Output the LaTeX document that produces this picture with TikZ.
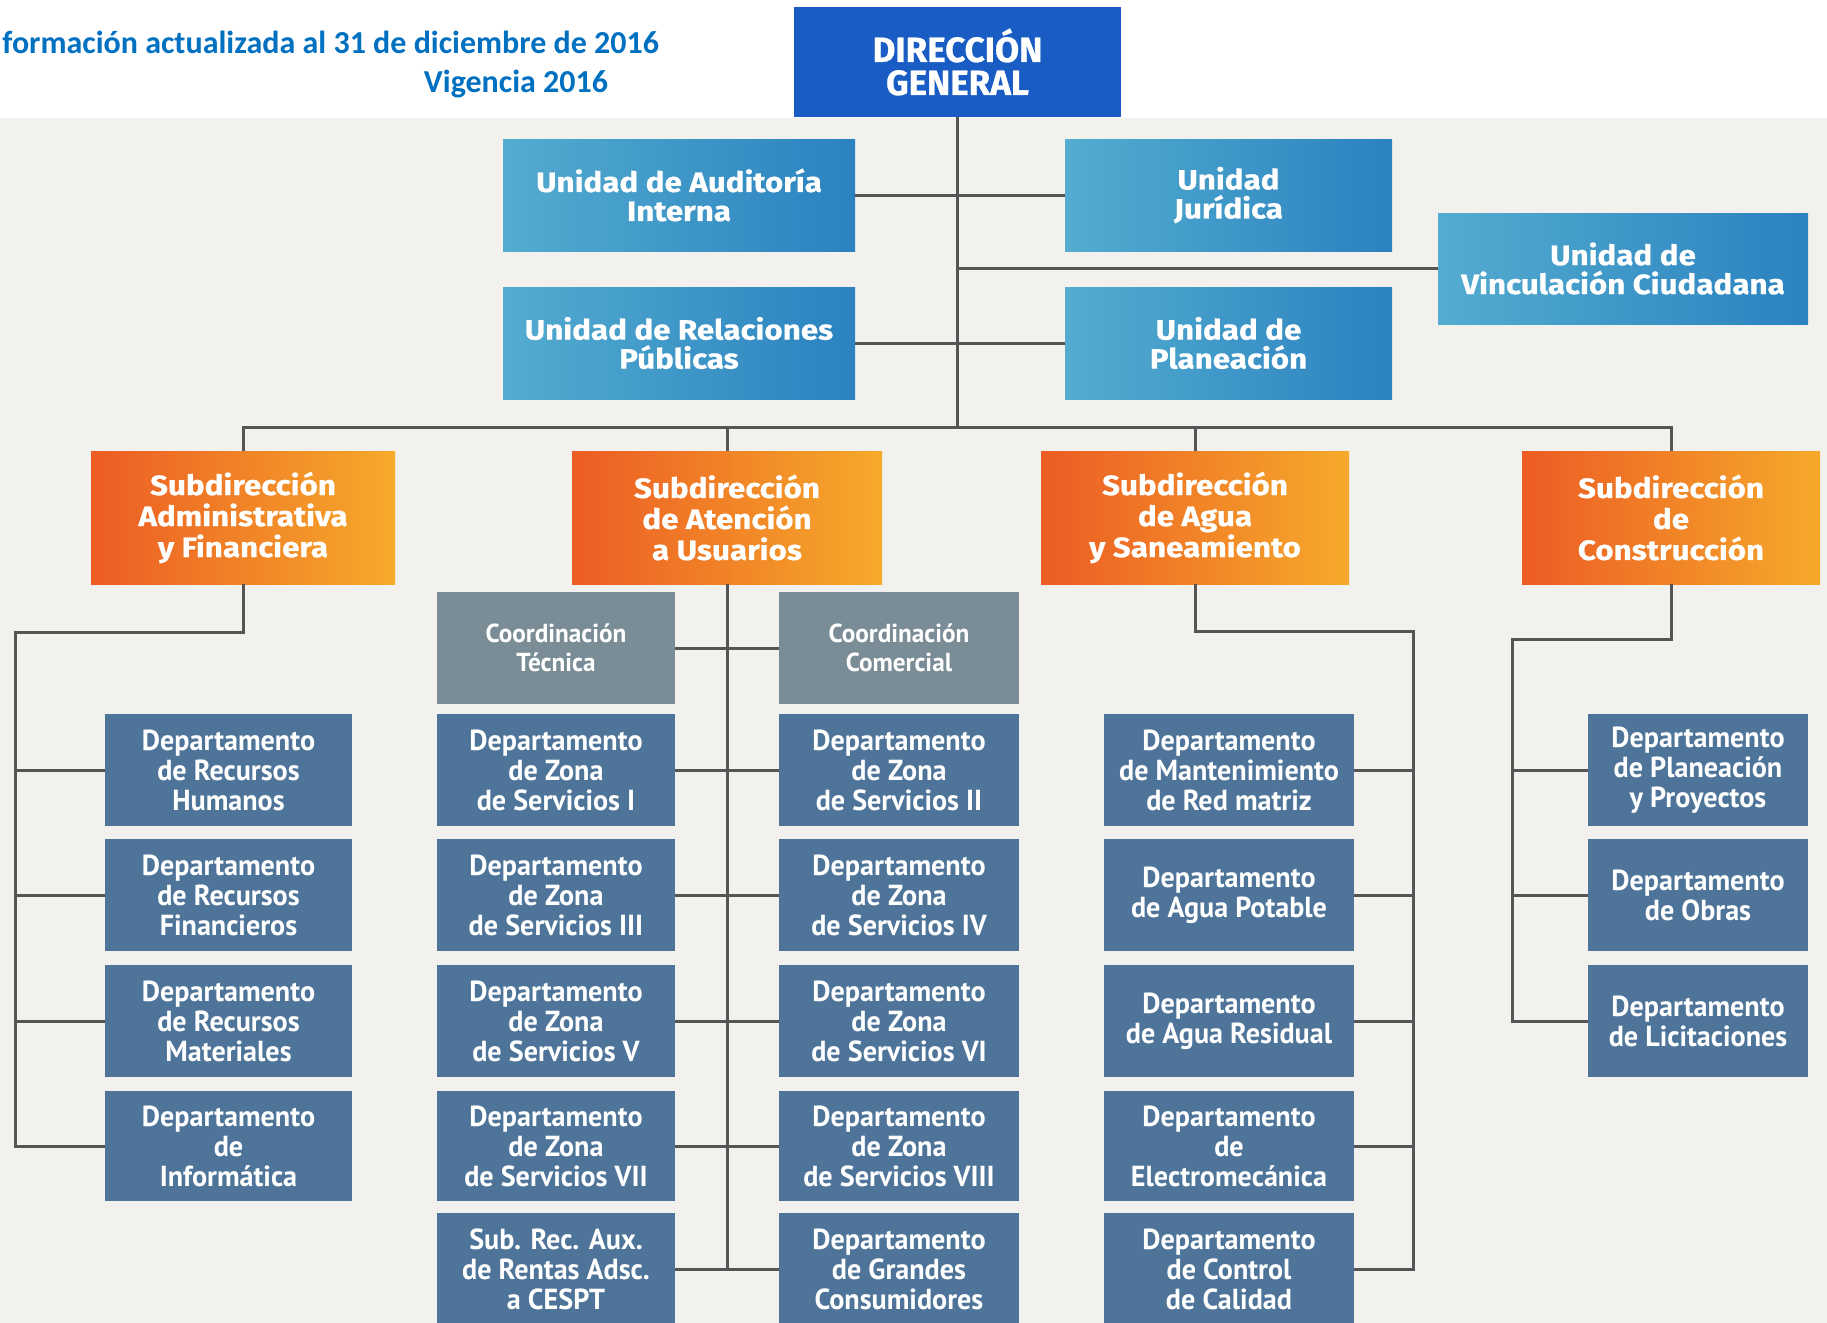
\documentclass[tikz,border=0pt]{standalone}
\usepackage{fontspec}
\setmainfont{PT Sans}
\newfontfamily\hdrfont{Carlito}
\newfontfamily\depfont[FakeStretch=0.97]{PT Sans}
\newfontfamily\subfont[FakeStretch=1.12, FakeBold=0.6]{Fira Sans}
\newfontfamily\dgfont[FakeStretch=1.0, FakeBold=0.8]{Fira Sans}
\definecolor{dgblue}{RGB}{24,92,196}
\definecolor{unitL}{RGB}{84,172,208}
\definecolor{unitR}{RGB}{42,130,192}
\definecolor{orgL}{RGB}{236,92,36}
\definecolor{orgR}{RGB}{246,170,42}
\definecolor{coordgray}{RGB}{122,140,150}
\definecolor{depblue}{RGB}{78,117,153}
\definecolor{linegray}{RGB}{85,85,85}
\definecolor{bgc}{RGB}{243,241,237}
\definecolor{hdrblue}{RGB}{0,112,192}
\tikzset{
  orgbase/.style={draw=none, inner sep=0pt, align=center, text=white},
  dgbox/.style={orgbase, fill=dgblue, font=\dgfont\bfseries\fontsize{17.5}{16.5}\selectfont},
  unitbox/.style={orgbase, left color=unitL, right color=unitR, font=\subfont\bfseries\fontsize{14}{14.5}\selectfont},
  subbox/.style={orgbase, left color=orgL, right color=orgR, font=\subfont\bfseries\fontsize{14}{15.5}\selectfont},
  coordbox/.style={orgbase, fill=coordgray, font=\depfont\bfseries\fontsize{13}{14.5}\selectfont},
  depbox/.style={orgbase, fill=depblue, font=\depfont\bfseries\fontsize{14.5}{15}\selectfont},
  conn/.style={draw=linegray, line width=1.5pt},
  hdr/.style={inner sep=0pt, text=hdrblue, font=\hdrfont\bfseries\fontsize{16}{17}\selectfont}
}
\newcommand{\obox}[7]{%
  \pgfmathsetmacro{\obw}{(#5-#3)*0.5}%
  \pgfmathsetmacro{\obh}{(#6-#4)*0.5}%
  \node[#2, minimum width=\obw pt, minimum height=\obh pt] (#1) at ({(#3+#5)/2},{(#4+#6)/2}) {#7};}
\begin{document}
\begin{tikzpicture}[x=0.5pt, y=-0.5pt]
\useasboundingbox (0,0) rectangle (1827,1323);
\clip (0,0) rectangle (1827,1323);
\fill[bgc] (0,0) rectangle (1827,1323);
\fill[white] (0,0) rectangle (1827,118);
% header
\node[hdr, anchor=base west] (h1) at (2,53) {formación actualizada al 31 de diciembre de 2016};
\node[hdr, anchor=base] (h2) at (516,92) {Vigencia 2016};
% top
\obox{dg}{dgbox}{794}{7}{1121}{117}{DIRECCIÓN\\GENERAL}
\obox{aud}{unitbox}{503}{139}{855}{251}{Unidad de Auditoría\\Interna}
\obox{jur}{unitbox}{1065}{139}{1392}{251}{Unidad\\Jurídica}
\obox{vin}{unitbox}{1438}{213}{1808}{324}{Unidad de\\Vinculación Ciudadana}
\obox{rel}{unitbox}{503}{287}{855}{399}{Unidad de Relaciones\\Públicas}
\obox{pla}{unitbox}{1065}{287}{1392}{399}{Unidad de\\Planeación}
% subdirecciones
\obox{sadm}{subbox}{91}{451}{395}{584}{Subdirección\\Administrativa\\y Financiera}
\obox{sat}{subbox}{572}{451}{882}{584}{Subdirección\\de Atención\\a Usuarios}
\obox{sag}{subbox}{1041}{451}{1349}{584}{Subdirección\\de Agua\\y Saneamiento}
\obox{sco}{subbox}{1522}{451}{1820}{584}{Subdirección\\de\\Construcción}
% admin
\obox{a1}{depbox}{105}{714}{352}{826}{Departamento\\de Recursos\\Humanos}
\obox{a2}{depbox}{105}{839}{352}{951}{Departamento\\de Recursos\\Financieros}
\obox{a3}{depbox}{105}{965}{352}{1077}{Departamento\\de Recursos\\Materiales}
\obox{a4}{depbox}{105}{1091}{352}{1201}{Departamento\\de\\Informática}
% atencion
\obox{ct}{coordbox}{437}{592}{675}{704}{Coordinación\\Técnica}
\obox{cc}{coordbox}{779}{592}{1019}{704}{Coordinación\\Comercial}
\obox{t1}{depbox}{437}{714}{675}{826}{Departamento\\de Zona\\de Servicios I}
\obox{t2}{depbox}{437}{839}{675}{951}{Departamento\\de Zona\\de Servicios III}
\obox{t3}{depbox}{437}{965}{675}{1077}{Departamento\\de Zona\\de Servicios V}
\obox{t4}{depbox}{437}{1091}{675}{1201}{Departamento\\de Zona\\de Servicios VII}
\obox{t5}{depbox}{437}{1213}{675}{1325}{Sub. Rec. Aux.\\de Rentas Adsc.\\a CESPT}
\obox{c1}{depbox}{779}{714}{1019}{826}{Departamento\\de Zona\\de Servicios II}
\obox{c2}{depbox}{779}{839}{1019}{951}{Departamento\\de Zona\\de Servicios IV}
\obox{c3}{depbox}{779}{965}{1019}{1077}{Departamento\\de Zona\\de Servicios VI}
\obox{c4}{depbox}{779}{1091}{1019}{1201}{Departamento\\de Zona\\de Servicios VIII}
\obox{c5}{depbox}{779}{1213}{1019}{1325}{Departamento\\de Grandes\\Consumidores}
% agua
\obox{g1}{depbox}{1104}{714}{1354}{826}{Departamento\\de Mantenimiento\\de Red matriz}
\obox{g2}{depbox}{1104}{839}{1354}{951}{Departamento\\de Agua Potable}
\obox{g3}{depbox}{1104}{965}{1354}{1077}{Departamento\\de Agua Residual}
\obox{g4}{depbox}{1104}{1091}{1354}{1201}{Departamento\\de\\Electromecánica}
\obox{g5}{depbox}{1104}{1213}{1354}{1325}{Departamento\\de Control\\de Calidad}
% construccion
\obox{k1}{depbox}{1588}{714}{1808}{826}{Departamento\\de Planeación\\y Proyectos}
\obox{k2}{depbox}{1588}{839}{1808}{951}{Departamento\\de Obras}
\obox{k3}{depbox}{1588}{965}{1808}{1077}{Departamento\\de Licitaciones}
% coordinates
\coordinate (bus) at (957,427);
\coordinate (admK) at (15,632);
\coordinate (agK) at (1413,631);
\coordinate (coK) at (1512,639);
% connectors top
\draw[conn] (dg.south) -- (dg.south |- bus);
\draw[conn] (aud.east) -- (jur.west);
\draw[conn] (rel.east) -- (pla.west);
\draw[conn] (dg.south |- vin.west) -- (vin.west);
\draw[conn] (sadm.north) -- (sadm.north |- bus) -- (sco.north |- bus) -- (sco.north);
\draw[conn] (sat.north) -- (sat.north |- bus);
\draw[conn] (sag.north) -- (sag.north |- bus);
% admin
\draw[conn] (sadm.south) |- (admK) |- (a4.west);
\draw[conn] (a1.west) -- (a1.west -| admK);
\draw[conn] (a2.west) -- (a2.west -| admK);
\draw[conn] (a3.west) -- (a3.west -| admK);
% atencion
\draw[conn] (sat.south) -- (sat.south |- t5.east);
\draw[conn] (ct.east) -- (cc.west);
\draw[conn] (t1.east) -- (c1.west);
\draw[conn] (t2.east) -- (c2.west);
\draw[conn] (t3.east) -- (c3.west);
\draw[conn] (t4.east) -- (c4.west);
\draw[conn] (t5.east) -- (c5.west);
% agua
\draw[conn] (sag.south) |- (agK) |- (g5.east);
\draw[conn] (g1.east) -- (g1.east -| agK);
\draw[conn] (g2.east) -- (g2.east -| agK);
\draw[conn] (g3.east) -- (g3.east -| agK);
\draw[conn] (g4.east) -- (g4.east -| agK);
% construccion
\draw[conn] (sco.south) |- (coK) |- (k3.west);
\draw[conn] (k1.west) -- (k1.west -| coK);
\draw[conn] (k2.west) -- (k2.west -| coK);
\end{tikzpicture}
\end{document}
